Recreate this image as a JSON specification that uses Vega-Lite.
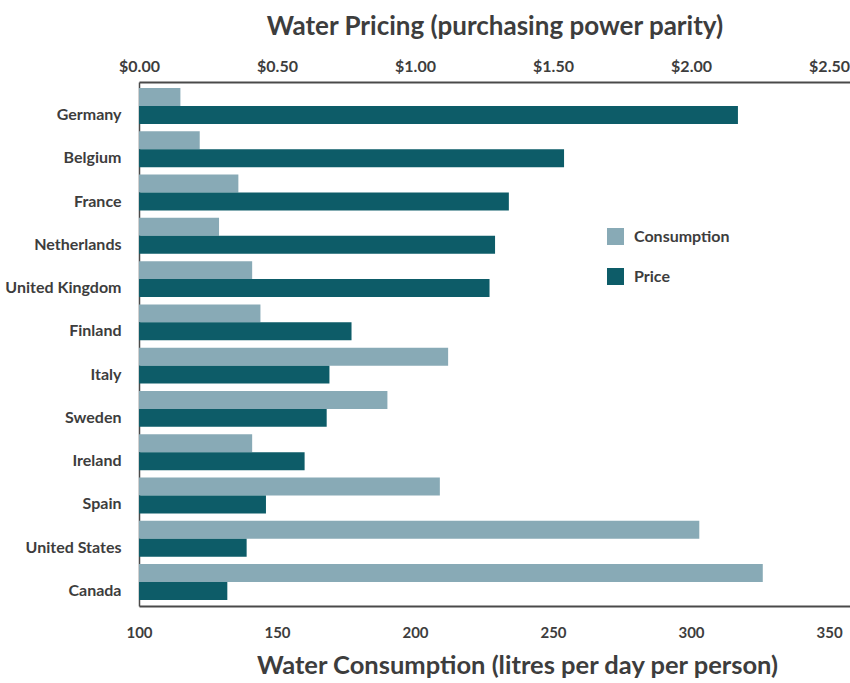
{
  "$schema": "https://vega.github.io/schema/vega-lite/v6.json",
  "width": 711,
  "height": 524,
  "autosize": {"type": "none"},
  "padding": {"left": 139, "top": 82, "right": 0, "bottom": 77},
  "background": "white",
  "config": {
    "font": "Lato",
    "view": {"stroke": null},
    "axis": {
      "labelFont": "Lato",
      "labelFontWeight": "bold",
      "labelColor": "#3d3d3d",
      "titleFont": "Lato",
      "titleFontWeight": "bold",
      "titleColor": "#3d3d3d",
      "domainColor": "#4a4a4a",
      "domainWidth": 2,
      "ticks": false,
      "tickSize": 0,
      "grid": false
    }
  },
  "data": {
    "values": [
      {"country": "Germany", "measure": "Consumption", "value": 115},
      {"country": "Germany", "measure": "Price", "value": 2.17},
      {"country": "Belgium", "measure": "Consumption", "value": 122},
      {"country": "Belgium", "measure": "Price", "value": 1.54},
      {"country": "France", "measure": "Consumption", "value": 136},
      {"country": "France", "measure": "Price", "value": 1.34},
      {"country": "Netherlands", "measure": "Consumption", "value": 129},
      {"country": "Netherlands", "measure": "Price", "value": 1.29},
      {"country": "United Kingdom", "measure": "Consumption", "value": 141},
      {"country": "United Kingdom", "measure": "Price", "value": 1.27},
      {"country": "Finland", "measure": "Consumption", "value": 144},
      {"country": "Finland", "measure": "Price", "value": 0.77},
      {"country": "Italy", "measure": "Consumption", "value": 212},
      {"country": "Italy", "measure": "Price", "value": 0.69},
      {"country": "Sweden", "measure": "Consumption", "value": 190},
      {"country": "Sweden", "measure": "Price", "value": 0.68},
      {"country": "Ireland", "measure": "Consumption", "value": 141},
      {"country": "Ireland", "measure": "Price", "value": 0.60},
      {"country": "Spain", "measure": "Consumption", "value": 209},
      {"country": "Spain", "measure": "Price", "value": 0.46},
      {"country": "United States", "measure": "Consumption", "value": 303},
      {"country": "United States", "measure": "Price", "value": 0.39},
      {"country": "Canada", "measure": "Consumption", "value": 326},
      {"country": "Canada", "measure": "Price", "value": 0.32}
    ]
  },
  "encoding": {
    "y": {
      "field": "country",
      "type": "nominal",
      "sort": null,
      "scale": {"paddingInner": 0.17, "paddingOuter": 0.14},
      "axis": {
        "title": null,
        "labelFontSize": 16,
        "labelPadding": 18,
        "labelOffset": 9,
        "domainWidth": 1.5
      }
    },
    "yOffset": {
      "field": "measure",
      "type": "nominal",
      "scale": {"domain": ["Consumption", "Price"], "paddingInner": 0, "paddingOuter": 0}
    },
    "color": {
      "field": "measure",
      "type": "nominal",
      "scale": {"domain": ["Consumption", "Price"], "range": ["#88aab6", "#0d5c68"]},
      "legend": {
        "title": null,
        "orient": "none",
        "legendX": 468,
        "legendY": 146,
        "symbolType": "square",
        "symbolSize": 289,
        "symbolStrokeWidth": 0,
        "symbolOpacity": 1,
        "labelFont": "Lato",
        "labelFontWeight": "bold",
        "labelFontSize": 16,
        "labelColor": "#3d3d3d",
        "labelOffset": 10,
        "rowPadding": 23
      }
    }
  },
  "layer": [
    {
      "transform": [{"filter": "datum.measure === 'Consumption'"}],
      "mark": {"type": "bar"},
      "encoding": {
        "x": {
          "field": "value",
          "type": "quantitative",
          "scale": {"domain": [100, 357.6], "zero": false, "nice": false},
          "axis": {
            "orient": "bottom",
            "title": "Water Consumption (litres per day per person)",
            "titleFontSize": 25.5,
            "titlePadding": 13,
            "titleX": 378,
            "titleAnchor": "middle",
            "titleAlign": "center",
            "values": [100, 150, 200, 250, 300, 350],
            "labelFontSize": 15,
            "labelPadding": 19,
            "labelFlush": false
          }
        },
        "x2": {"datum": 100}
      }
    },
    {
      "transform": [{"filter": "datum.measure === 'Price'"}],
      "mark": {"type": "bar"},
      "encoding": {
        "x": {
          "field": "value",
          "type": "quantitative",
          "scale": {"domain": [0, 2.576], "nice": false},
          "axis": {
            "orient": "top",
            "title": "Water Pricing (purchasing power parity)",
            "titleFontSize": 26,
            "titlePadding": 19,
            "values": [0, 0.5, 1, 1.5, 2, 2.5],
            "format": "$.2f",
            "labelFontSize": 16,
            "labelPadding": 8,
            "labelFlush": false
          }
        }
      }
    }
  ],
  "resolve": {"scale": {"x": "independent"}}
}
